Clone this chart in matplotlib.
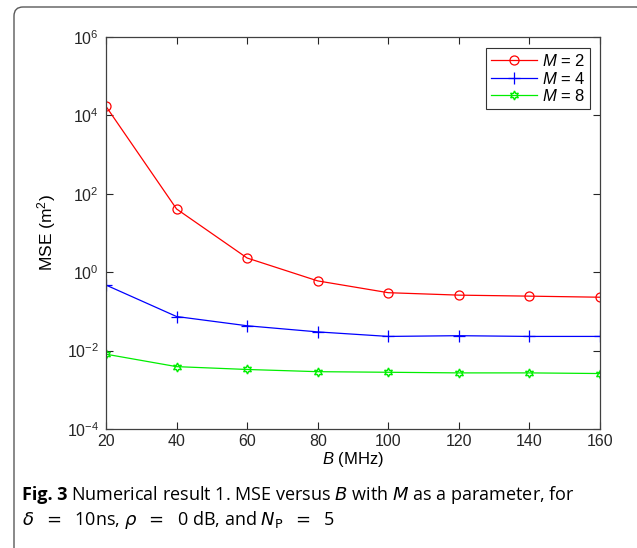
import matplotlib
matplotlib.use("Agg")
import matplotlib.pyplot as plt
from matplotlib.patches import FancyBboxPatch
from matplotlib.transforms import IdentityTransform
import numpy as np

bw = [20, 40, 60, 80, 100, 120, 140, 160]
mse_m2 = [1.7e4, 41, 2.3, 0.6, 0.30, 0.26, 0.245, 0.23]
mse_m4 = [0.47, 0.074, 0.043, 0.030, 0.023, 0.024, 0.023, 0.023]
mse_m8 = [0.0081, 0.0039, 0.0033, 0.0029, 0.0028, 0.0027, 0.0027, 0.0026]
xticks = [20, 40, 60, 80, 100, 120, 140, 160]
yticks = [1e-4, 1e-2, 1e0, 1e2, 1e4, 1e6]
ytick_labels = ['$10^{-4}$', '$10^{-2}$', '$10^{0}$', '$10^{2}$', '$10^{4}$', '$10^{6}$']

plt.rcParams['font.family'] = ['Liberation Sans', 'DejaVu Sans']
plt.rcParams['mathtext.fontset'] = 'custom'
plt.rcParams['mathtext.rm'] = 'Liberation Sans'
plt.rcParams['mathtext.it'] = 'Liberation Sans:italic'

fig = plt.figure(figsize=(6.37, 5.48), dpi=100)

# rounded frame around figure + caption (pixel coords)
frame = FancyBboxPatch((14, -30), 632, 548 - 7 + 30, transform=IdentityTransform(),
                       boxstyle="round,pad=0,rounding_size=9", fc='none', ec='0.35', lw=1.0)
fig.patches.append(frame)

ax = fig.add_axes([106/637, 1 - 429/548, 494/637, 392/548])
ax.semilogy(bw, mse_m2, color='red', lw=0.9, marker='o', ms=6.5, mfc='none', mec='red', mew=0.9, label='$M$ = 2')
ax.semilogy(bw, mse_m4, color='blue', lw=0.9, marker='+', ms=8.5, mew=0.9, label='$M$ = 4')
ax.semilogy(bw, mse_m8, color='#00ee00', lw=0.9, marker=(6, 1, 0), ms=6.5, mfc='none', mec='#00ee00', mew=1.0, label='$M$ = 8')

ax.set_xlim(20, 160)
ax.set_ylim(1e-4, 1e6)
ax.set_xticks(xticks)
ax.set_yticks(yticks)
ax.set_yticklabels(ytick_labels)
ax.yaxis.set_minor_locator(matplotlib.ticker.NullLocator())
ax.tick_params(which='both', direction='in', top=True, right=True, labelsize=11.5, length=5, width=0.8, colors='0.15')
ax.tick_params(axis='y', pad=5)
for s in ax.spines.values():
    s.set_color('0.25')
    s.set_linewidth(0.9)
ax.set_xlabel('$B$ (MHz)', fontsize=12, labelpad=1)
ax.set_ylabel('MSE (m$^2$)', fontsize=12.5, labelpad=6)

leg = ax.legend(loc='upper right', bbox_to_anchor=(0.98, 0.972), fontsize=12, fancybox=False,
                framealpha=1, edgecolor='0.2', borderpad=0.3, labelspacing=0.1, handlelength=2.8,
                handletextpad=0.25, borderaxespad=0.0)
leg.get_frame().set_linewidth(0.8)

# caption
cap_font = ['Open Sans', 'DejaVu Sans']
t1 = fig.text(22/637, 1 - 495/548, 'Fig. 3', fontsize=13, fontweight='bold', family=cap_font, va='center')
fig.canvas.draw()
bb = t1.get_window_extent(fig.canvas.get_renderer())
fig.text(bb.x1 / 637 + 0.006, 1 - 495/548, 'Numerical result 1. MSE versus $B$ with $M$ as a parameter, for',
         fontsize=13, family=cap_font, va='center', math_fontfamily='dejavusans')
fig.text(22/637, 1 - 520/548, r'$\delta \;\;=\;\; $10ns, $\rho \;\;=\;\; $0 dB, and $N_{\mathrm{P}} \;\;=\;\; $5',
         fontsize=13, family=cap_font, va='center', math_fontfamily='dejavusans')

fig.savefig('out.png', dpi=100)
